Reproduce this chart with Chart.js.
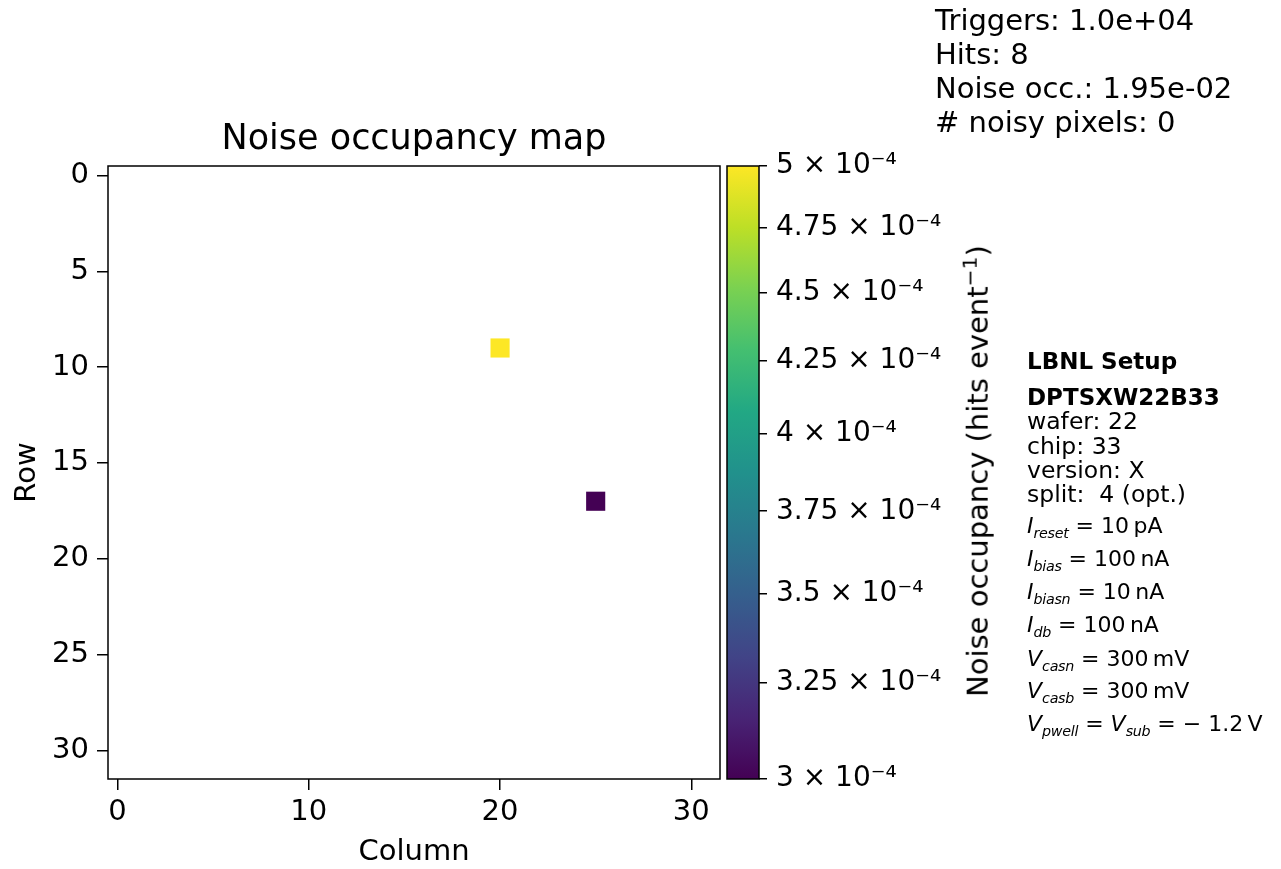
<!DOCTYPE html>
<html lang="en">
<head>
<meta charset="utf-8">
<title>Noise occupancy map</title>
<script src="https://cdn.jsdelivr.net/npm/chart.js@4.4.1/dist/chart.umd.min.js"></script>
<style>
    html, body { margin: 0; padding: 0; background: #fff; }
    body {
        width: 1281px; height: 869px; position: relative; overflow: hidden;
        font-family: "DejaVu Sans", sans-serif; color: #000;
    }
    #mapCanvas { position: absolute; left: 0; top: 0; }
    #barCanvas { position: absolute; left: 700px; top: 0; }
    .plot-title {
        position: absolute; left: 108px; width: 612px; top: 116px;
        text-align: center; font-size: 35px; line-height: 42px;
    }
    .run-info {
        position: absolute; left: 935px; top: 3px;
        font-size: 29px; line-height: 34px; white-space: pre;
    }
    .cb-label {
        position: absolute; left: 976px; top: 471px; white-space: nowrap;
        transform: translate(-50%, -50%) rotate(-90deg); font-size: 29px;
    }
    .cb-label sup { font-size: 0.7em; }
    .setup { position: absolute; left: 1027px; top: 0; font-size: 23.5px; white-space: nowrap; }
    .setup div { position: absolute; left: 0; transform: translateY(-50%); }
    .setup .bold { font-weight: bold; font-size: 23px; }
    .setup .math { font-size: 22px; }
    .setup i { font-style: italic; }
    .setup sub { font-size: 0.65em; font-style: italic; vertical-align: -0.3em; letter-spacing: -0.02em; }
</style>
</head>
<body>
<canvas id="mapCanvas" width="1281" height="869"></canvas>
<canvas id="barCanvas" width="300" height="869"></canvas>

<div class="plot-title">Noise occupancy map</div>
<div class="run-info">Triggers: 1.0e+04
Hits: 8
Noise occ.: 1.95e-02
# noisy pixels: 0</div>
<div class="cb-label">Noise occupancy (hits event<sup>−1</sup>)</div>

<div class="setup">
    <div class="bold" style="top:361px">LBNL Setup</div>
    <div class="bold" style="top:397px">DPTSXW22B33</div>
    <div style="top:421px">wafer: 22</div>
    <div style="top:446px">chip: 33</div>
    <div style="top:470px">version: X</div>
    <div style="top:494px">split:&nbsp; 4 (opt.)</div>
    <div class="math" style="top:527px"><i>I</i><sub>reset</sub> = 10&thinsp;pA</div>
    <div class="math" style="top:560px"><i>I</i><sub>bias</sub> = 100&thinsp;nA</div>
    <div class="math" style="top:593px"><i>I</i><sub>biasn</sub> = 10&thinsp;nA</div>
    <div class="math" style="top:626px"><i>I</i><sub>db</sub> = 100&thinsp;nA</div>
    <div class="math" style="top:660px"><i>V</i><sub>casn</sub> = 300&thinsp;mV</div>
    <div class="math" style="top:692px"><i>V</i><sub>casb</sub> = 300&thinsp;mV</div>
    <div class="math" style="top:725px"><i>V</i><sub>pwell</sub> = <i>V</i><sub>sub</sub> = − 1.2&thinsp;V</div>
</div>

<script>
// Pixel matrix: 32 x 32, only the hit pixels are listed
const nCols = 32;
const nRows = 32;
const colTicks = [0, 10, 20, 30];
const rowTicks = [0, 5, 10, 15, 20, 25, 30];

const hitCols = [20, 25];
const hitRows = [9, 17];
const hitOccupancy = [5e-4, 3e-4];

// Colour bar (log scale)
const occMin = 3e-4;
const occMax = 5e-4;
const colorbarTicks = [3e-4, 3.25e-4, 3.5e-4, 3.75e-4, 4e-4, 4.25e-4, 4.5e-4, 4.75e-4, 5e-4];

const viridis = [
    '#440154', '#482475', '#414487', '#355f8d', '#2a788e', '#21918c',
    '#22a884', '#44bf70', '#7ad151', '#bddf26', '#fde725'
];

function hexToRgb(hex) {
    const n = parseInt(hex.slice(1), 16);
    return [(n >> 16) & 255, (n >> 8) & 255, n & 255];
}

function viridisAt(t) {
    t = Math.min(1, Math.max(0, t));
    const pos = t * (viridis.length - 1);
    const i = Math.min(viridis.length - 2, Math.floor(pos));
    const f = pos - i;
    const a = hexToRgb(viridis[i]);
    const b = hexToRgb(viridis[i + 1]);
    const c = a.map((v, k) => Math.round(v + (b[k] - v) * f));
    return `rgb(${c[0]}, ${c[1]}, ${c[2]})`;
}

function occupancyColor(v) {
    const t = Math.log(v / occMin) / Math.log(occMax / occMin);
    return viridisAt(t);
}

function formatSci(v) {
    const mant = parseFloat((v * 1e4).toFixed(2));
    return mant + ' × 10⁻⁴';
}

// Draws the black box round the chart area
const framePlugin = {
    id: 'frame',
    afterDatasetsDraw(chart, args, opts) {
        const { ctx, chartArea: a } = chart;
        ctx.save();
        ctx.strokeStyle = '#000';
        ctx.lineWidth = opts.width || 1;
        ctx.strokeRect(a.left, a.top, a.right - a.left, a.bottom - a.top);
        ctx.restore();
    }
};

const tickGrid = (len, width) => ({
    display: true,
    drawOnChartArea: false,
    drawTicks: true,
    tickLength: len,
    color: '#000',
    lineWidth: width
});

document.addEventListener('DOMContentLoaded', () => {
    Chart.defaults.font.family = '"DejaVu Sans", sans-serif';
    Chart.defaults.color = '#000';

    const cells = hitCols.map((c, i) => ({ x: c, y: hitRows[i], v: hitOccupancy[i] }));

    new Chart(document.getElementById('mapCanvas'), {
        type: 'scatter',
        data: {
            datasets: [{
                data: cells,
                pointStyle: 'rect',
                pointBorderWidth: 0,
                pointBackgroundColor: (ctx) => occupancyColor(ctx.raw.v),
                pointRadius: (ctx) => {
                    const xs = ctx.chart.scales.x;
                    if (!xs) return 5;
                    const w = Math.abs(xs.getPixelForValue(1) - xs.getPixelForValue(0));
                    return w / 2 / Math.SQRT1_2;
                }
            }]
        },
        options: {
            responsive: false,
            animation: false,
            events: [],
            layout: { padding: { left: 8, top: 166, right: 561, bottom: 0 } },
            scales: {
                x: {
                    type: 'linear',
                    min: -0.5,
                    max: nCols - 0.5,
                    afterBuildTicks: (s) => { s.ticks = colTicks.map(v => ({ value: v })); },
                    afterFit: (s) => { s.height = 90; },
                    grid: tickGrid(11, 1.5),
                    border: { display: false },
                    ticks: { font: { size: 29 }, padding: 5, maxRotation: 0 },
                    title: { display: true, text: 'Column', font: { size: 29 }, padding: { top: 0, bottom: -1 } }
                },
                y: {
                    type: 'linear',
                    reverse: true,
                    min: -0.5,
                    max: nRows - 0.5,
                    afterBuildTicks: (s) => { s.ticks = rowTicks.map(v => ({ value: v })); },
                    afterFit: (s) => { s.width = 100; },
                    grid: tickGrid(11, 1.5),
                    border: { display: false },
                    ticks: { font: { size: 29 }, padding: 8 },
                    title: { display: true, text: 'Row', font: { size: 29 }, padding: { top: 2, bottom: 0 } }
                }
            },
            plugins: {
                legend: { display: false },
                tooltip: { enabled: false },
                frame: { width: 1.5 }
            }
        },
        plugins: [framePlugin]
    });

    new Chart(document.getElementById('barCanvas'), {
        type: 'bar',
        data: {
            labels: [''],
            datasets: [{
                data: [[occMin, occMax]],
                borderWidth: 0,
                categoryPercentage: 1,
                barPercentage: 1,
                backgroundColor: (ctx) => {
                    const area = ctx.chart.chartArea;
                    if (!area) return viridisAt(0.5);
                    const g = ctx.chart.ctx.createLinearGradient(0, area.bottom, 0, area.top);
                    viridis.forEach((c, i) => g.addColorStop(i / (viridis.length - 1), c));
                    return g;
                }
            }]
        },
        options: {
            responsive: false,
            animation: false,
            events: [],
            layout: { padding: { left: 27, top: 166, right: 0, bottom: 90 } },
            scales: {
                x: { display: false },
                y: {
                    type: 'logarithmic',
                    position: 'right',
                    min: occMin,
                    max: occMax,
                    afterBuildTicks: (s) => { s.ticks = colorbarTicks.map(v => ({ value: v })); },
                    afterFit: (s) => { s.width = 241; },
                    grid: tickGrid(8, 1.5),
                    border: { display: false },
                    ticks: { font: { size: 28 }, padding: 9, callback: (v) => formatSci(v) }
                }
            },
            plugins: {
                legend: { display: false },
                tooltip: { enabled: false },
                frame: { width: 1.5 }
            }
        },
        plugins: [framePlugin]
    });
});
</script>
</body>
</html>
